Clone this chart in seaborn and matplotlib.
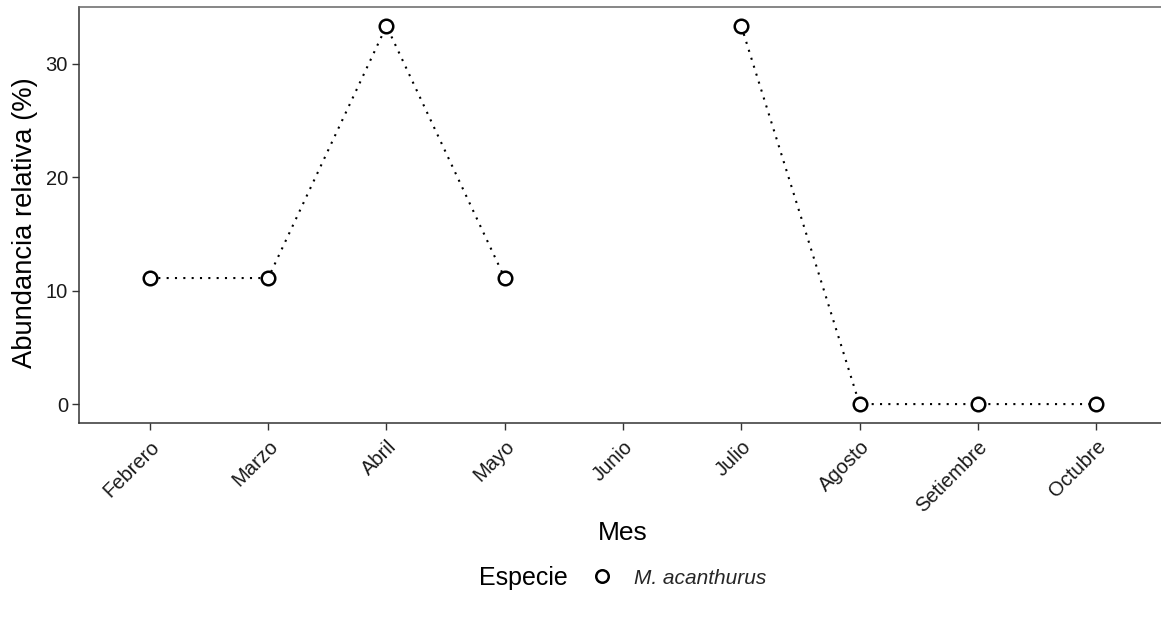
import numpy as np
import pandas as pd
import matplotlib
matplotlib.use("Agg")
import matplotlib.pyplot as plt
from matplotlib.lines import Line2D
import seaborn as sns

# Monthly relative abundance of M. acanthurus (Junio has no sample)
meses = ["Febrero", "Marzo", "Abril", "Mayo", "Junio", "Julio",
         "Agosto", "Setiembre", "Octubre"]
abundancia = [11.11, 11.11, 33.33, 11.11, np.nan, 33.33, 0.0, 0.0, 0.0]
especie = "M. acanthurus"
y_ticks = [0, 10, 20, 30]

df = pd.DataFrame({"mes": meses, "abundancia": abundancia})
df["pos"] = np.arange(len(meses))
# consecutive runs of observed months form separate line segments
df["tramo"] = df["abundancia"].isna().cumsum()
obs = df.dropna(subset=["abundancia"])

sns.set_style("white")
plt.rcParams["font.family"] = ["Liberation Sans", "DejaVu Sans"]

fig = plt.figure(figsize=(11.61, 6.21), dpi=100)
ax = fig.add_axes([79 / 1161, 198 / 621, 1088 / 1161, 416 / 621])

sns.lineplot(data=obs, x="pos", y="abundancia", units="tramo",
             estimator=None, color="black", linewidth=1.5,
             linestyle=(0, (1, 3)), ax=ax, legend=False)
sns.scatterplot(data=obs, x="pos", y="abundancia", s=95, marker="o",
                facecolor="white", edgecolor="black", linewidth=1.8,
                ax=ax, legend=False, zorder=3)

ax.set_xlim(-0.6, len(meses) - 0.4)
ax.set_ylim(-1.667, 35.0)
ax.set_xticks(df["pos"])
ax.set_xticklabels(meses, rotation=45, ha="right", rotation_mode="anchor")
ax.set_yticks(y_ticks)
ax.set_xlabel("")
ax.set_ylabel("")
ax.tick_params(axis="both", which="both", length=5, width=1.0,
               color="#333333", labelsize=14.5, labelcolor="#1a1a1a",
               left=True, bottom=True)
ax.tick_params(axis="x", pad=5)
ax.tick_params(axis="y", pad=3)

for side in ["left", "bottom", "top"]:
    ax.spines[side].set_visible(True)
    ax.spines[side].set_linewidth(1.1)
ax.spines["left"].set_color("#333333")
ax.spines["bottom"].set_color("#333333")
ax.spines["top"].set_color("#666666")
ax.spines["right"].set_visible(False)

fig.text(25 / 1161, 1 - 223 / 621, "Abundancia relativa (%)", rotation=90,
         ha="center", va="center", fontsize=19.7, color="black")
fig.text(623 / 1161, 1 - 533 / 621, "Mes", ha="center", va="center",
         fontsize=19, color="black")

# Legend laid out horizontally, title to the left of the key
fig.text(568 / 1161, 1 - 578 / 621, "Especie", ha="right", va="center",
         fontsize=18, color="black")
handle = Line2D([], [], linestyle="none", marker="o", markersize=9,
                markerfacecolor="white", markeredgecolor="black",
                markeredgewidth=1.8)
fig.legend([handle], [especie], loc="center left",
           bbox_to_anchor=(592 / 1161, 1 - 578 / 621), frameon=False,
           handlelength=1.0, handletextpad=1.0, borderpad=0,
           borderaxespad=0, prop={"style": "italic", "size": 15})

fig.savefig("out.png", dpi=100)
